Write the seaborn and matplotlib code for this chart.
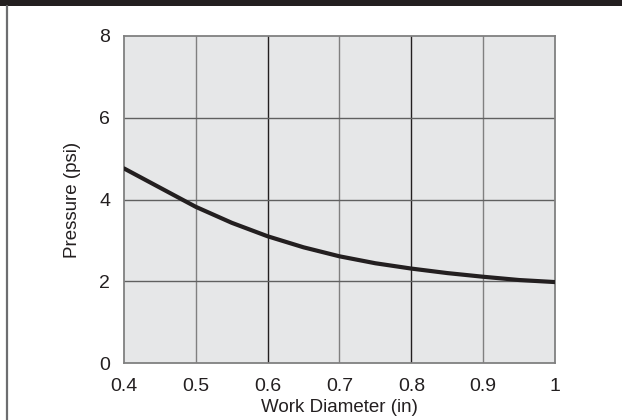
import numpy as np
import pandas as pd
import matplotlib
matplotlib.use("Agg")
import matplotlib.pyplot as plt
import seaborn as sns
from matplotlib.patches import Rectangle
from matplotlib.lines import Line2D

# data
work_diameter = [0.40, 0.45, 0.50, 0.55, 0.60, 0.65, 0.70, 0.75, 0.80, 0.85, 0.90, 0.95, 1.00]
pressure = [4.76, 4.29, 3.82, 3.43, 3.10, 2.83, 2.61, 2.44, 2.31, 2.20, 2.11, 2.03, 1.98]
x_ticks = [0.4, 0.5, 0.6, 0.7, 0.8, 0.9, 1.0]
x_tick_labels = ["0.4", "0.5", "0.6", "0.7", "0.8", "0.9", "1"]
y_ticks = [0, 2, 4, 6, 8]

df = pd.DataFrame({"Work Diameter (in)": work_diameter, "Pressure (psi)": pressure})

sns.set_theme(style="white")
plt.rcParams['font.family'] = ['Liberation Sans', 'DejaVu Sans']

fig = plt.figure(figsize=(6.22, 4.2), dpi=100)
ax = fig.add_axes([124 / 622, 1 - 363 / 420, (555 - 124) / 622, (363 - 36) / 420])
ax.set_facecolor("#e6e7e8")

sns.lineplot(data=df, x="Work Diameter (in)", y="Pressure (psi)", ax=ax,
             color="#231f20", linewidth=3.0, zorder=5)

ax.set_xlim(0.4, 1.0)
ax.set_ylim(0, 8)
ax.set_xticks(x_ticks)
ax.set_xticklabels(x_tick_labels)
ax.set_yticks(y_ticks)
ax.tick_params(length=0, labelsize=14, colors="#231f20")
ax.tick_params(axis="x", pad=11)
ax.tick_params(axis="y", pad=10)
ax.set_xlabel("Work Diameter (in)", fontsize=13.5, color="#231f20", labelpad=3)
ax.set_ylabel("Pressure (psi)", fontsize=13.5, color="#231f20", labelpad=13)

# grid: alternating gray/black verticals like the reference
for xv in x_ticks[1:-1]:
    col = "#231f20" if xv in (0.6, 0.8) else "#808080"
    ax.axvline(xv, color=col, linewidth=1.0, zorder=1)
for yv in y_ticks[1:-1]:
    ax.axhline(yv, color="#606060", linewidth=1.0, zorder=1)

for s in ax.spines.values():
    s.set_color("#808080")
    s.set_linewidth(1.3)

# header band and left frame line
fig.patches.append(Rectangle((0, 1 - 6 / 420), 1, 6 / 420, transform=fig.transFigure,
                             facecolor="#231f20", edgecolor="none"))
fig.lines.append(Line2D([7 / 622, 7 / 622], [0, 1 - 6 / 420], transform=fig.transFigure,
                        color="#6d6e70", linewidth=1.6))

fig.savefig("out.png", dpi=100, facecolor="white")
